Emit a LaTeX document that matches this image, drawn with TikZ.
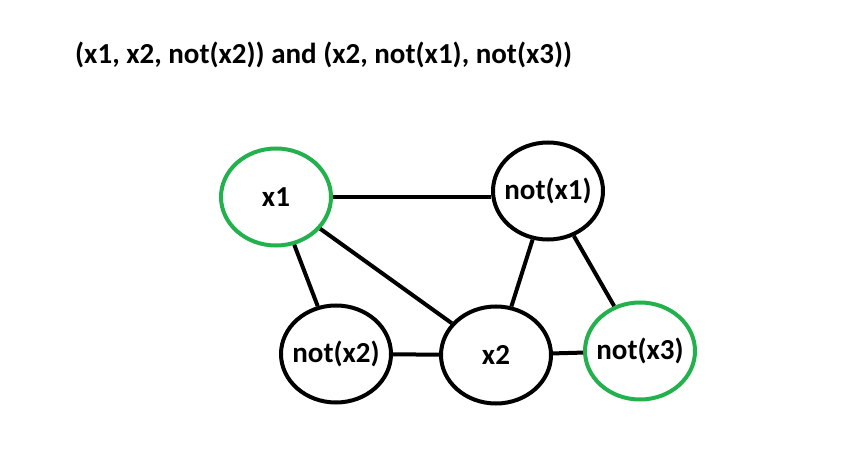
\documentclass[tikz,border=0pt]{standalone}
\usepackage{fontspec}
\setmainfont{Carlito}
\definecolor{mygreen}{RGB}{34,177,76}

\tikzstyle{var}=[ellipse, draw, line width=4pt, minimum width=110pt, minimum height=97pt, inner xsep=-5pt, inner ysep=0pt, text centered, font=\bfseries\fontsize{29}{34}\selectfont]
\tikzstyle{chosen}=[var, draw=mygreen]

\usetikzlibrary{shapes.geometric}

\begin{document}
\begin{tikzpicture}[x=1pt, y=-1pt]
        \useasboundingbox (0, 0) rectangle (849, 457);

        \node[anchor=west, inner sep=0pt, font=\bfseries\fontsize{29}{34}\selectfont](title) at (75, 55) {(x1, x2, not(x2)) and (x2, not(x1), not(x3))};

        \node[chosen](x1) at (276, 197) {x1};
        \node[var](nx1) at (548, 191) {not(x1)};

        \node[var](nx2) at (336, 354) {not(x2)};
        \node[var](x2) at (496, 355) {x2};
        \node[chosen](nx3) at (640, 351) {not(x3)};

        \begin{scope}[every path/.style={-, line width=4pt}]
            \draw (x1.east) -- (nx1.west |- x1.east);
            \draw (x1) -- (nx2);
            \draw (x1) -- (x2);

            \draw (nx1) -- (x2);
            \draw (nx1) -- (nx3);

            \draw (nx2) -- (x2);
            \draw (x2) -- (nx3);
        \end{scope}
    \end{tikzpicture}
\end{document}
